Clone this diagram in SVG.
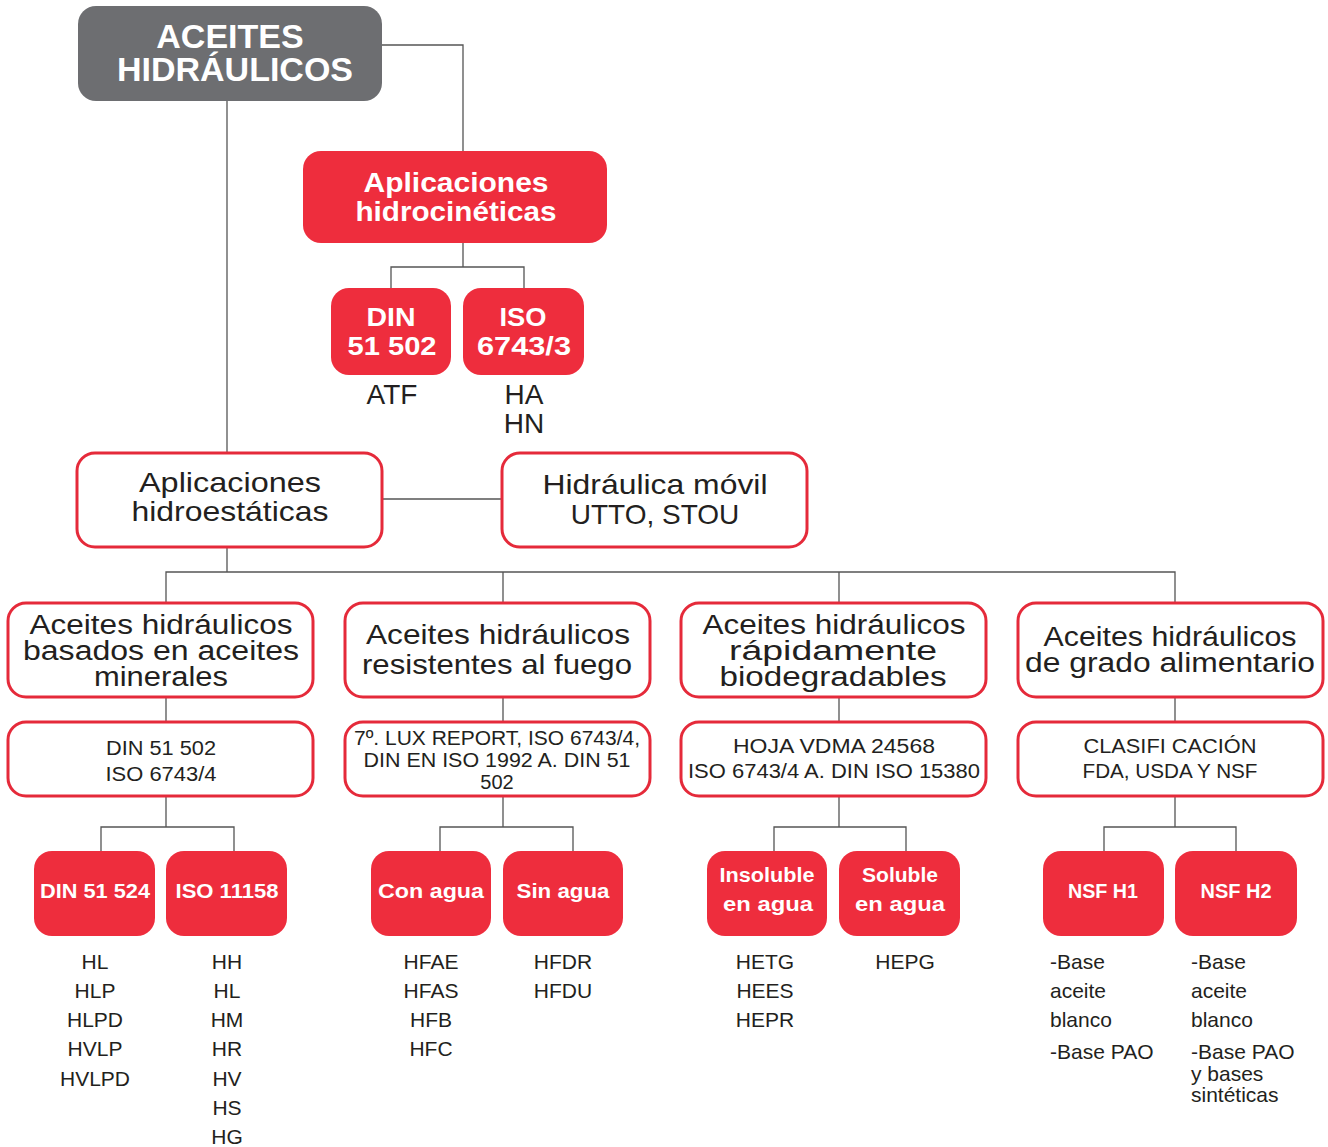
<svg xmlns="http://www.w3.org/2000/svg" width="1328" height="1147" viewBox="0 0 1328 1147">
<style>
.root{fill:#6d6e71}
.red{fill:#ee2d3d}
.out{fill:#fff;stroke:#e52a3a;stroke-width:3}
.wt{fill:#fff;font-family:"Liberation Sans",Arial,sans-serif;font-weight:bold;text-anchor:middle}
.dt{fill:#231f20;font-family:"Liberation Sans",Arial,sans-serif;text-anchor:middle}
.lt{fill:#231f20;font-family:"Liberation Sans",Arial,sans-serif;font-size:21px}
.c{fill:none;stroke:#555;stroke-width:1.3}
</style>
<rect width="1328" height="1147" fill="#fff"/>
<g id="connectors">
<path class="c" d="M382 45H463V151"/>
<path class="c" d="M227 101V453"/>
<path class="c" d="M463 243V267M391 289V267H524V289"/>
<path class="c" d="M382 499H502"/>
<path class="c" d="M227 547V572M166 603V572H1175V603M503 572V603M839 572V603"/>
<path class="c" d="M166 697V722M503 697V722M839 697V722M1175 697V722"/>
<path class="c" d="M166 796V827M101 851V827H234V851"/>
<path class="c" d="M503 796V827M440 851V827H573V851"/>
<path class="c" d="M839 796V827M774 851V827H906V851"/>
<path class="c" d="M1175 796V827M1104 851V827H1236V851"/>
</g>
<g id="root">
<rect class="root" x="78" y="6" width="304" height="95" rx="18"/>
<text class="wt" font-size="34" x="230" y="48">ACEITES</text>
<text class="wt" font-size="34" x="235" y="81">HIDRÁULICOS</text>
</g>
<g id="hidrocineticas">
<rect class="red" x="303" y="151" width="304" height="92" rx="18"/>
<text class="wt" font-size="28" x="456" y="192" textLength="185" lengthAdjust="spacingAndGlyphs">Aplicaciones</text>
<text class="wt" font-size="28" x="456" y="221" textLength="201" lengthAdjust="spacingAndGlyphs">hidrocinéticas</text>
</g>
<g id="din51502">
<rect class="red" x="331" y="288" width="120" height="87" rx="18"/>
<text class="wt" font-size="26" x="391" y="326" textLength="49" lengthAdjust="spacingAndGlyphs">DIN</text>
<text class="wt" font-size="26" x="392" y="355" textLength="89" lengthAdjust="spacingAndGlyphs">51 502</text>
<text class="dt" font-size="28" x="392" y="404">ATF</text>
</g>
<g id="iso67433">
<rect class="red" x="463" y="288" width="121" height="87" rx="18"/>
<text class="wt" font-size="26" x="523" y="326" textLength="47" lengthAdjust="spacingAndGlyphs">ISO</text>
<text class="wt" font-size="26" x="524" y="355" textLength="94" lengthAdjust="spacingAndGlyphs">6743/3</text>
<text class="dt" font-size="28" x="524" y="404">HA</text>
<text class="dt" font-size="28" x="524" y="433">HN</text>
</g>
<g id="hidroestaticas">
<rect class="out" x="77" y="453" width="305" height="94" rx="18"/>
<text class="dt" font-size="28" x="230" y="492" textLength="182" lengthAdjust="spacingAndGlyphs">Aplicaciones</text>
<text class="dt" font-size="28" x="230" y="521" textLength="197" lengthAdjust="spacingAndGlyphs">hidroestáticas</text>
</g>
<g id="movil">
<rect class="out" x="502" y="453" width="305" height="94" rx="18"/>
<text class="dt" font-size="28" x="655" y="494" textLength="225" lengthAdjust="spacingAndGlyphs">Hidráulica móvil</text>
<text class="dt" font-size="28" x="655" y="524">UTTO, STOU</text>
</g>
<g id="minerales">
<rect class="out" x="8" y="603" width="305" height="94" rx="18"/>
<text class="dt" font-size="27" x="161" y="634" textLength="263" lengthAdjust="spacingAndGlyphs">Aceites hidráulicos</text>
<text class="dt" font-size="27" x="161" y="660" textLength="276" lengthAdjust="spacingAndGlyphs">basados en aceites</text>
<text class="dt" font-size="27" x="161" y="686" textLength="134" lengthAdjust="spacingAndGlyphs">minerales</text>
</g>
<g id="fuego">
<rect class="out" x="345" y="603" width="305" height="94" rx="18"/>
<text class="dt" font-size="28" x="498" y="644" textLength="264" lengthAdjust="spacingAndGlyphs">Aceites hidráulicos</text>
<text class="dt" font-size="28" x="497" y="674" textLength="270" lengthAdjust="spacingAndGlyphs">resistentes al fuego</text>
</g>
<g id="biodegradables">
<rect class="out" x="681" y="603" width="305" height="94" rx="18"/>
<text class="dt" font-size="27" x="834" y="634" textLength="263" lengthAdjust="spacingAndGlyphs">Aceites hidráulicos</text>
<text class="dt" font-size="27" x="833" y="660" textLength="208" lengthAdjust="spacingAndGlyphs">rápidamente</text>
<text class="dt" font-size="27" x="833" y="686" textLength="227" lengthAdjust="spacingAndGlyphs">biodegradables</text>
</g>
<g id="alimentario">
<rect class="out" x="1018" y="603" width="305" height="94" rx="18"/>
<text class="dt" font-size="27" x="1170" y="646" textLength="253" lengthAdjust="spacingAndGlyphs">Aceites hidráulicos</text>
<text class="dt" font-size="27" x="1170" y="672" textLength="290" lengthAdjust="spacingAndGlyphs">de grado alimentario</text>
</g>
<g id="norma1">
<rect class="out" x="8" y="722" width="305" height="74" rx="18"/>
<text class="dt" font-size="20" x="161" y="755" textLength="110" lengthAdjust="spacingAndGlyphs">DIN 51 502</text>
<text class="dt" font-size="20" x="161" y="781" textLength="111" lengthAdjust="spacingAndGlyphs">ISO 6743/4</text>
</g>
<g id="norma2">
<rect class="out" x="345" y="722" width="305" height="74" rx="18"/>
<text class="dt" font-size="20" x="497" y="745" textLength="286" lengthAdjust="spacingAndGlyphs">7º. LUX REPORT, ISO 6743/4,</text>
<text class="dt" font-size="20" x="497" y="767" textLength="267" lengthAdjust="spacingAndGlyphs">DIN EN ISO 1992 A. DIN 51</text>
<text class="dt" font-size="20" x="497" y="789">502</text>
</g>
<g id="norma3">
<rect class="out" x="681" y="722" width="305" height="74" rx="18"/>
<text class="dt" font-size="20" x="834" y="753" textLength="202" lengthAdjust="spacingAndGlyphs">HOJA VDMA 24568</text>
<text class="dt" font-size="20" x="834" y="778" textLength="292" lengthAdjust="spacingAndGlyphs">ISO 6743/4 A. DIN ISO 15380</text>
</g>
<g id="norma4">
<rect class="out" x="1018" y="722" width="305" height="74" rx="18"/>
<text class="dt" font-size="20" x="1170" y="753" textLength="173" lengthAdjust="spacingAndGlyphs">CLASIFI CACIÓN</text>
<text class="dt" font-size="20" x="1170" y="778" textLength="175" lengthAdjust="spacingAndGlyphs">FDA, USDA Y NSF</text>
</g>
<g id="din51524">
<rect class="red" x="34" y="851" width="121" height="85" rx="18"/>
<text class="wt" font-size="20" x="95" y="898" textLength="110" lengthAdjust="spacingAndGlyphs">DIN 51 524</text>
<text class="dt" font-size="21"><tspan x="95" y="969">HL</tspan><tspan x="95" y="998">HLP</tspan><tspan x="95" y="1027">HLPD</tspan><tspan x="95" y="1056">HVLP</tspan><tspan x="95" y="1086">HVLPD</tspan></text>
</g>
<g id="iso11158">
<rect class="red" x="166" y="851" width="121" height="85" rx="18"/>
<text class="wt" font-size="20" x="227" y="898" textLength="103" lengthAdjust="spacingAndGlyphs">ISO 11158</text>
<text class="dt" font-size="21"><tspan x="227" y="969">HH</tspan><tspan x="227" y="998">HL</tspan><tspan x="227" y="1027">HM</tspan><tspan x="227" y="1056">HR</tspan><tspan x="227" y="1086">HV</tspan><tspan x="227" y="1115">HS</tspan><tspan x="227" y="1144">HG</tspan></text>
</g>
<g id="conagua">
<rect class="red" x="371" y="851" width="120" height="85" rx="18"/>
<text class="wt" font-size="20" x="431" y="898" textLength="106" lengthAdjust="spacingAndGlyphs">Con agua</text>
<text class="dt" font-size="21"><tspan x="431" y="969">HFAE</tspan><tspan x="431" y="998">HFAS</tspan><tspan x="431" y="1027">HFB</tspan><tspan x="431" y="1056">HFC</tspan></text>
</g>
<g id="sinagua">
<rect class="red" x="503" y="851" width="120" height="85" rx="18"/>
<text class="wt" font-size="20" x="563" y="898" textLength="93" lengthAdjust="spacingAndGlyphs">Sin agua</text>
<text class="dt" font-size="21"><tspan x="563" y="969">HFDR</tspan><tspan x="563" y="998">HFDU</tspan></text>
</g>
<g id="insoluble">
<rect class="red" x="707" y="851" width="120" height="85" rx="18"/>
<text class="wt" font-size="20" x="767" y="882" textLength="95" lengthAdjust="spacingAndGlyphs">Insoluble</text>
<text class="wt" font-size="20" x="768" y="911" textLength="90" lengthAdjust="spacingAndGlyphs">en agua</text>
<text class="dt" font-size="21"><tspan x="765" y="969">HETG</tspan><tspan x="765" y="998">HEES</tspan><tspan x="765" y="1027">HEPR</tspan></text>
</g>
<g id="soluble">
<rect class="red" x="839" y="851" width="121" height="85" rx="18"/>
<text class="wt" font-size="20" x="900" y="882" textLength="76" lengthAdjust="spacingAndGlyphs">Soluble</text>
<text class="wt" font-size="20" x="900" y="911" textLength="90" lengthAdjust="spacingAndGlyphs">en agua</text>
<text class="dt" font-size="21" x="905" y="969">HEPG</text>
</g>
<g id="nsfh1">
<rect class="red" x="1043" y="851" width="121" height="85" rx="18"/>
<text class="wt" font-size="20" x="1103" y="898" textLength="70" lengthAdjust="spacingAndGlyphs">NSF H1</text>
<text class="lt"><tspan x="1050" y="969">-Base</tspan><tspan x="1050" y="998">aceite</tspan><tspan x="1050" y="1027">blanco</tspan><tspan x="1050" y="1059">-Base PAO</tspan></text>
</g>
<g id="nsfh2">
<rect class="red" x="1175" y="851" width="122" height="85" rx="18"/>
<text class="wt" font-size="20" x="1236" y="898" textLength="71" lengthAdjust="spacingAndGlyphs">NSF H2</text>
<text class="lt"><tspan x="1191" y="969">-Base</tspan><tspan x="1191" y="998">aceite</tspan><tspan x="1191" y="1027">blanco</tspan><tspan x="1191" y="1059">-Base PAO</tspan><tspan x="1191" y="1081">y bases</tspan><tspan x="1191" y="1102">sintéticas</tspan></text>
</g>
</svg>
